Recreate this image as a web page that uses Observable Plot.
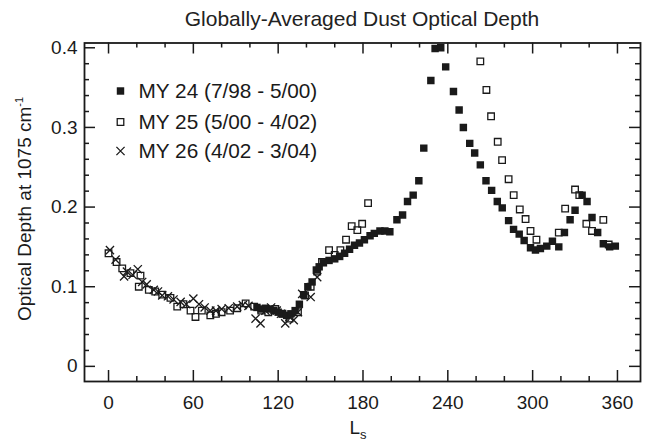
<!DOCTYPE html>
<html><head><meta charset="utf-8">
<script src="https://cdn.jsdelivr.net/npm/d3@7"></script>
<script src="https://cdn.jsdelivr.net/npm/@observablehq/plot@0.6"></script>
<style>
body{margin:0;background:#fff;font-family:"Liberation Sans",Arial,Helvetica,sans-serif;}
#title{width:646px;height:34px;line-height:38px;font-size:21px;text-align:center;padding-left:84px;padding-right:6px;box-sizing:border-box;color:#222;}
</style></head><body>
<div id="title"></div>
<div id="chart"></div>
<script>
const titleText = "Globally-Averaged Dust Optical Depth";
const xLabelMain = "L", xLabelSub = "s";
const yLabelMain = "Optical Depth at 1075 cm", yLabelSup = "-1";
const seriesNames = ["MY 24 (7/98 - 5/00)", "MY 25 (5/00 - 4/02)", "MY 26 (4/02 - 3/04)"];
const xMajor = [0, 60, 120, 180, 240, 300, 360];
const xMinor = [20, 40, 80, 100, 140, 160, 200, 220, 260, 280, 320, 340];
const yMajor = [0, 0.1, 0.2, 0.3, 0.4];
const yMinor = [0.02,0.04,0.06,0.08,0.12,0.14,0.16,0.18,0.22,0.24,0.26,0.28,0.32,0.34,0.36,0.38];

// [Ls, optical depth]
const my24 = [[105,0.074],[108,0.072],[111,0.073],[114,0.072],[117,0.070],[120,0.068],[123,0.066],[126,0.064],[129,0.066],[132,0.070],[135,0.078],[138,0.090],[141,0.100],[144,0.106],[147,0.121],[149,0.125],[152,0.130],[156,0.133],[160,0.135],[163.5,0.138],[167,0.142],[170.5,0.147],[174,0.152],[177.5,0.155],[181,0.159],[185,0.164],[188,0.167],[192,0.170],[195.5,0.170],[199,0.169],[204,0.184],[208,0.190],[211.5,0.207],[215.5,0.215],[219.5,0.233],[223,0.274],[228,0.359],[231,0.399],[235,0.400],[238.5,0.376],[244,0.345],[248,0.322],[251,0.300],[255.5,0.280],[259,0.268],[263,0.253],[267,0.233],[271,0.221],[275,0.207],[278.5,0.199],[283,0.183],[286.5,0.172],[290.5,0.166],[294,0.158],[298.5,0.149],[302,0.146],[305.5,0.148],[310,0.151],[314,0.157],[318.5,0.150],[322.5,0.168],[326.5,0.184],[330,0.196],[335,0.215],[338.5,0.207],[342,0.187],[346,0.168],[350,0.154],[354.5,0.150],[358.5,0.151]];
const my25 = [[0,0.142],[5.7,0.131],[9.7,0.123],[15.5,0.117],[21.4,0.100],[22.6,0.114],[28.5,0.096],[33,0.094],[38,0.090],[43.8,0.086],[48.6,0.075],[53,0.078],[58,0.070],[61.5,0.062],[66,0.070],[72,0.064],[76,0.066],[80,0.068],[86,0.070],[91,0.073],[97,0.079],[103,0.075],[108,0.070],[113,0.068],[118,0.072],[123,0.066],[128,0.060],[134,0.068],[139,0.089],[143,0.100],[147.6,0.119],[151,0.131],[156,0.146],[160,0.140],[164,0.146],[168,0.159],[172,0.176],[176,0.171],[179.4,0.179],[183.6,0.205],[263,0.383],[267.3,0.347],[270.6,0.314],[275.3,0.282],[278.4,0.259],[283,0.235],[286.6,0.215],[290.9,0.197],[295,0.185],[298.5,0.170],[302.7,0.159],[318.5,0.168],[323,0.198],[330,0.222],[333,0.215],[338,0.179],[342,0.170],[350,0.184],[353.8,0.153]];
const my26 = [[1,0.146],[5,0.134],[11,0.113],[13,0.119],[17,0.115],[20.7,0.122],[23.8,0.106],[27,0.103],[32,0.096],[35,0.094],[38,0.089],[42,0.088],[46,0.084],[51,0.081],[55,0.078],[60,0.085],[64,0.078],[68,0.074],[72,0.070],[76,0.070],[80,0.072],[85,0.073],[91,0.075],[95,0.077],[99,0.076],[104,0.060],[107.5,0.054],[111,0.070],[115,0.074],[119,0.070],[122,0.066],[125,0.054],[128,0.062],[131,0.058],[134,0.068],[137,0.091],[143,0.087],[147.6,0.112]];

document.getElementById("title").textContent = titleText;

const toRows = arr => arr.map(([ls, tau]) => ({ls, tau}));
const ink = "#1a1a1a";
const font = '"Liberation Sans", Arial, Helvetica, sans-serif';
const fs = 19, legendFs = 20.8;
const W = 646, H = 411, mT = 8.5, mB = 64, mL = 84, mR = 6;
const frameW = W - mL - mR, frameH = H - mT - mB;
const xDom = [-17, 376.3], yDom = [-0.019, 0.406];
const kX = frameW / (xDom[1] - xDom[0]);   // px per Ls unit
const kY = frameH / (yDom[1] - yDom[0]);   // px per tau unit

const tickStyle = {stroke: ink, strokeWidth: 1.5};
const tickMarks = [];
for (const [vals, size] of [[xMajor, 11], [xMinor, 5]]) {
  tickMarks.push(Plot.ruleX(vals, {x: d => d, y1: yDom[0], y2: yDom[0] + size / kY, ...tickStyle}));
  tickMarks.push(Plot.ruleX(vals, {x: d => d, y1: yDom[1] - size / kY, y2: yDom[1], ...tickStyle}));
}
for (const [vals, size] of [[yMajor, 11], [yMinor, 5]]) {
  tickMarks.push(Plot.ruleY(vals, {y: d => d, x1: xDom[0], x2: xDom[0] + size / kX, ...tickStyle}));
  tickMarks.push(Plot.ruleY(vals, {y: d => d, x1: xDom[1] - size / kX, x2: xDom[1], ...tickStyle}));
}

const legendSymbols = [
  {symbol: "square", fill: ink, stroke: "none", r: 4.2},
  {symbol: "square", fill: "none", stroke: ink, r: 3.7},
  {symbol: "times", fill: "none", stroke: ink, r: 3.8}
];
const legendRowDy = [48, 79, 108];
const legendMarks = seriesNames.flatMap((name, i) => [
  Plot.dot([name], {frameAnchor: "top-left", dx: 36, dy: legendRowDy[i], symbol: legendSymbols[i].symbol, fill: legendSymbols[i].fill, stroke: legendSymbols[i].stroke, strokeWidth: 1.3, r: legendSymbols[i].r}),
  Plot.text([name], {frameAnchor: "top-left", lineAnchor: "middle", dx: 54, dy: legendRowDy[i], text: d => d, textAnchor: "start", fontSize: legendFs, fill: ink})
]);

const svg = Plot.plot({
  width: W,
  height: H,
  marginTop: mT,
  marginBottom: mB,
  marginLeft: mL,
  marginRight: mR,
  style: {fontFamily: font, fontSize: fs + "px", color: ink, background: "#fff"},
  x: {domain: xDom},
  y: {domain: yDom},
  marks: [
    ...tickMarks,
    Plot.axisX(xMajor, {anchor: "bottom", tickSize: 0, tickPadding: 14, label: null, fontSize: fs, fill: ink}),
    Plot.axisY(yMajor, {anchor: "left", tickSize: 0, tickPadding: 7, label: null, fontSize: fs, fill: ink, tickFormat: d => d === 0 ? "0" : d3.format(".1f")(d)}),
    Plot.dot(toRows(my26), {x: "ls", y: "tau", symbol: "times", r: 3.8, stroke: ink, strokeWidth: 1.3, clip: true}),
    Plot.dot(toRows(my25), {x: "ls", y: "tau", symbol: "square", r: 3.7, fill: "none", stroke: ink, strokeWidth: 1.3, clip: true}),
    Plot.dot(toRows(my24), {x: "ls", y: "tau", symbol: "square", r: 4.2, fill: ink, stroke: "none", clip: true}),
    ...legendMarks,
    Plot.frame({stroke: ink, strokeWidth: 1.8})
  ]
});

const s = d3.select(svg);
const xl = s.append("text").attr("x", 358).attr("y", 400).attr("text-anchor", "middle")
  .attr("font-family", font).attr("font-size", fs).attr("fill", ink);
xl.append("tspan").text(xLabelMain);
xl.append("tspan").attr("font-size", 13).attr("dy", 5).text(xLabelSub);
const yl = s.append("text").attr("transform", "translate(31,175) rotate(-90)").attr("text-anchor", "middle")
  .attr("font-family", font).attr("font-size", fs).attr("fill", ink);
yl.append("tspan").text(yLabelMain);
yl.append("tspan").attr("font-size", 11).attr("dy", -8).text(yLabelSup);

document.getElementById("chart").appendChild(svg);
</script>
</body></html>
